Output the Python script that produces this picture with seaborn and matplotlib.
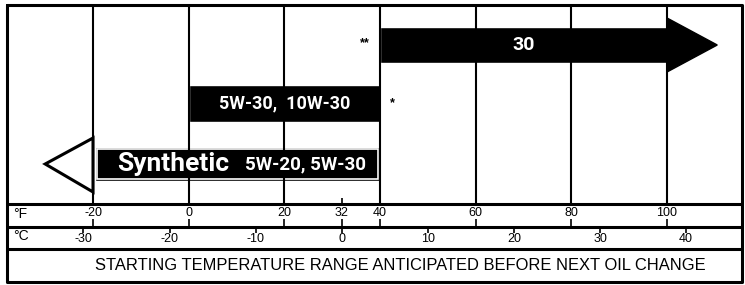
import matplotlib
matplotlib.use("Agg")
import matplotlib.pyplot as plt
from matplotlib.patches import Polygon
import seaborn as sns

# data
grid_f = [-20, 0, 20, 40, 60, 80, 100]
f_ticks = [-20, 0, 20, 32, 40, 60, 80, 100]
c_ticks = [-30, -20, -10, 0, 10, 20, 30, 40]
oils = ["30", "5W-30,  10W-30", "5W-20, 5W-30"]
oil_low = [40, 0, -20]      # F, -20 = arrow to the left (open ended)
oil_high = [100, 40, 40]    # F, 100 = arrow to the right (open ended)
notes = ["**", "*", ""]

sns.set_theme(style="white")
plt.rcParams["font.family"] = ["Liberation Sans", "DejaVu Sans"]
plt.rcParams["text.color"] = "black"
narrow = ["Roboto", "DejaVu Sans"]

fig = plt.figure(figsize=(7.45, 2.85), dpi=100)
ax = fig.add_axes([0, 0, 1, 1])
ax.set_xlim(-39.45, 116.3)   # degrees F
ax.set_ylim(285, 0)          # row layout units
ax.axis("off")

left, right = -38.0, 115.7
top, chart_bot, f_bot, c_bot, bottom = 5, 204, 227, 249, 282

# frame and rows
ax.plot([left, right, right, left, left], [top, top, bottom, bottom, top], color="black", lw=2.2)
for y in [chart_bot, f_bot, c_bot]:
    ax.hlines(y, left, right, color="black", lw=2.2)
ax.vlines(grid_f, top, chart_bot, color="black", lw=1.5)
ax.vlines(32, chart_bot - 6, chart_bot, color="black", lw=1.2)

# bar rows: centre y and height
rows_y = [45, 103, 164]
rows_h = [36, 37, 32]

# 30 : right arrow
ax.barh(rows_y[0], oil_high[0] - oil_low[0], height=rows_h[0], left=oil_low[0], color="black")
ax.add_patch(Polygon([[oil_high[0], 18], [110.5, rows_y[0]], [oil_high[0], 72]],
                     closed=True, facecolor="black", edgecolor="black"))
ax.text((oil_low[0] + oil_high[0]) / 2, rows_y[0], oils[0], color="white", fontsize=14,
        fontweight="bold", family=narrow, ha="center", va="center")
ax.text(oil_low[0] - 3.2, rows_y[0] - 2, notes[0], fontsize=9, fontweight="bold", ha="center", va="center")

# 5W-30, 10W-30
ax.barh(rows_y[1], oil_high[1] - oil_low[1], height=rows_h[1], left=oil_low[1], color="black")
ax.text((oil_low[1] + oil_high[1]) / 2, rows_y[1], oils[1], color="white", fontsize=13,
        fontweight="bold", family=narrow, ha="center", va="center")
ax.text(oil_high[1] + 2.5, rows_y[1], notes[1], fontsize=9, fontweight="bold", ha="center", va="center")

# Synthetic : left arrow, double outlined
ax.barh(rows_y[2], oil_high[2] - oil_low[2] - 0.4, height=rows_h[2] + 2, left=oil_low[2] + 0.4,
        color="black")
ax.barh(rows_y[2], oil_high[2] - oil_low[2] - 1.2, height=rows_h[2] - 2, left=oil_low[2] + 0.8,
        color="black", edgecolor="white", lw=1.2)
ax.add_patch(Polygon([[oil_low[2], 138], [-30.0, rows_y[2]], [oil_low[2], 192]],
                     closed=True, facecolor="white", edgecolor="black", lw=2.2))
ax.text(-3.3, rows_y[2], "Synthetic", color="white", fontsize=19, fontweight="bold",
        family=narrow, ha="center", va="center")
ax.text(24.5, rows_y[2] + 0.5, oils[2], color="white", fontsize=13.5, fontweight="bold",
        family=narrow, ha="center", va="center")

# Fahrenheit row
ax.text(left + 1.3, 214, "°F", fontsize=10, ha="left", va="center")
for f in f_ticks:
    ax.vlines(f, 219, f_bot, color="black", lw=1.2)
    ax.text(f, 213.5, str(f), fontsize=9, ha="center", va="center")

# Celsius row
ax.text(left + 1.3, 236, "°C", fontsize=10, ha="left", va="center")
for c in c_ticks:
    f = c * 9 / 5 + 32
    ax.vlines(f, f_bot, 233, color="black", lw=1.2)
    ax.text(f, 238.5, str(c), fontsize=9, ha="center", va="center")

ax.text((left + right) / 2 + 5.3, 266, "STARTING TEMPERATURE RANGE ANTICIPATED BEFORE NEXT OIL CHANGE",
        fontsize=11.9, ha="center", va="center")

fig.savefig("out.png", dpi=100, facecolor="white")
